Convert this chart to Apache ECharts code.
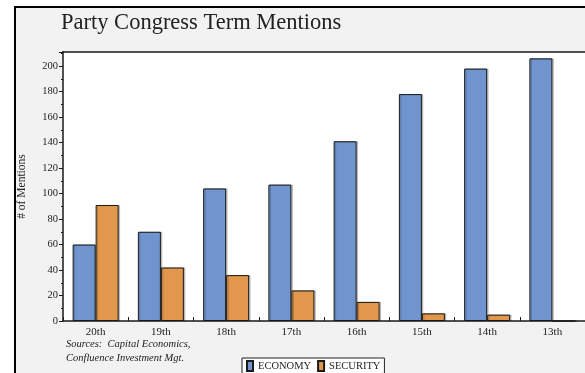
<!DOCTYPE html>
<html>
<head>
<meta charset="utf-8">
<script src="https://cdn.jsdelivr.net/npm/echarts@6/dist/echarts.min.js"></script>
<style>
html,body{margin:0;padding:0;background:#fff;}
#chart{width:585px;height:373px;}
</style>
</head>
<body>
<div id="chart"></div>
<script>
const categories = ['20th', '19th', '18th', '17th', '16th', '15th', '14th', '13th'];
const economy = [60, 70, 104, 107, 141, 178, 198, 206];
const security = [91, 42, 36, 24, 15, 6, 5, 0];
const seriesNames = ['ECONOMY', 'SECURITY'];
const titleText = 'Party Congress Term Mentions';
const yAxisName = '# of Mentions';
const sourceLines = ['Sources:  Capital Economics,', 'Confluence Investment Mgt.'];

const FONT = '"Liberation Serif", "Times New Roman", serif';
const chart = echarts.init(document.getElementById('chart'), null, {renderer: 'canvas'});

const barStyle = (color) => ({
  color: color,
  borderColor: '#1a1a1a',
  borderWidth: 1,
  shadowColor: 'rgba(0,0,0,0.2)',
  shadowOffsetX: 1.5,
  shadowOffsetY: 0,
  shadowBlur: 0
});

chart.setOption({
  animation: false,
  backgroundColor: '#fff',
  textStyle: {fontFamily: FONT},
  graphic: [
    {type: 'rect', z: -10, shape: {x: 15, y: 7, width: 600, height: 400},
     style: {fill: '#f2f2f2', stroke: '#000', lineWidth: 2}},
    {type: 'line', z: 10, shape: {x1: 62, y1: 52, x2: 585, y2: 52},
     style: {stroke: '#1a1a1a', lineWidth: 1.5}},
    {type: 'text', left: 61, top: 12, z: 10,
     style: {text: titleText, font: 'normal 22.5px ' + FONT, fill: '#222'}},
    {type: 'text', left: 66, top: 337, z: 10,
     style: {text: sourceLines.join('\n'), font: 'italic 10.5px ' + FONT, fill: '#222', lineHeight: 14}}
  ],
  legend: {
    data: seriesNames,
    left: 242,
    top: 358,
    orient: 'horizontal',
    backgroundColor: '#fff',
    borderColor: '#222',
    borderWidth: 1,
    borderRadius: 0,
    padding: [2, 4, 8, 4],
    itemWidth: 6,
    itemHeight: 10,
    itemGap: 6,
    icon: 'rect',
    textStyle: {fontFamily: FONT, fontSize: 10.5, color: '#222'}
  },
  grid: {
    left: 63, right: 0, top: 52, bottom: 52,
    show: true, backgroundColor: '#fff', borderWidth: 0
  },
  xAxis: {
    type: 'category',
    data: categories,
    axisLine: {lineStyle: {color: '#1a1a1a', width: 1.5}},
    axisTick: {show: true, inside: true, length: 4, lineStyle: {color: '#1a1a1a'}},
    axisLabel: {fontFamily: FONT, fontSize: 11, color: '#222', margin: 6},
    splitLine: {show: false}
  },
  yAxis: {
    type: 'value',
    min: 0,
    max: 211,
    interval: 20,
    name: yAxisName,
    nameLocation: 'middle',
    nameRotate: 90,
    nameGap: 35,
    nameTextStyle: {fontFamily: FONT, fontSize: 11.5, color: '#222'},
    axisLine: {show: true, lineStyle: {color: '#1a1a1a', width: 1.5}},
    axisTick: {show: true, length: 4, lineStyle: {color: '#1a1a1a'}},
    minorTick: {show: true, splitNumber: 2, length: 2, lineStyle: {color: '#1a1a1a'}},
    axisLabel: {fontFamily: FONT, fontSize: 10.5, color: '#222', margin: 5, showMaxLabel: false},
    splitLine: {show: false}
  },
  series: [
    {name: seriesNames[0], type: 'bar', data: economy, barWidth: 23, barGap: '0%', itemStyle: barStyle('#7094cd')},
    {name: seriesNames[1], type: 'bar', data: security, barWidth: 23, barGap: '0%', itemStyle: barStyle('#e1974c')}
  ]
});
</script>
</body>
</html>
